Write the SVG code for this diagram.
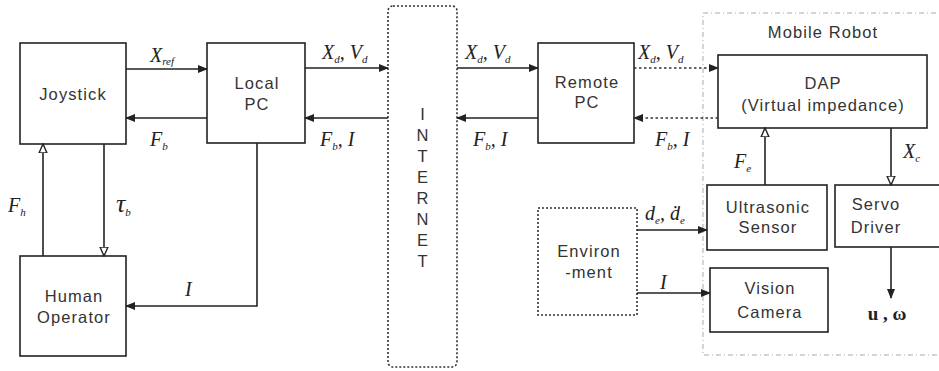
<svg xmlns="http://www.w3.org/2000/svg" width="939" height="371" viewBox="0 0 939 371">
<defs>
<style>
.box{fill:#fff;stroke:#222;stroke-width:1.6}
.dot{fill:none;stroke:#333;stroke-width:1.6;stroke-dasharray:2 2}
.cont{fill:none;stroke:#aaa;stroke-width:1;stroke-dasharray:5 3 1 3}
.t{font-family:"Liberation Sans",Arial,sans-serif;font-size:16.5px;letter-spacing:1.1px;fill:#333;text-anchor:middle}
.lab{font-family:"Liberation Serif","Times New Roman",serif;font-style:italic;font-size:20px;fill:#222}
.sub{font-size:11px}
.c{fill:none;stroke:#222;stroke-width:1.6}
.cd{fill:none;stroke:#333;stroke-width:1.6;stroke-dasharray:2.5 2.5}
</style>
<marker id="af" markerWidth="10" markerHeight="8" refX="9" refY="4" orient="auto" markerUnits="userSpaceOnUse"><path d="M0,0 L10,4 L0,8 Z" fill="#222"/></marker>
<marker id="ao" markerWidth="10" markerHeight="10" refX="9" refY="5" orient="auto" markerUnits="userSpaceOnUse"><path d="M0,1 L9,5 L0,9 Z" fill="#fff" stroke="#222" stroke-width="1.4"/></marker>
</defs>

<g id="mobile-robot">
<rect class="cont" x="703" y="13" width="240" height="342"/>
<text class="t" x="823" y="38">Mobile Robot</text>
</g>

<g id="joystick"><rect class="box" x="20" y="43" width="106" height="101"/><text class="t" x="73" y="100">Joystick</text></g>
<g id="local-pc"><rect class="box" x="207" y="43" width="98" height="100"/><text class="t" x="257" y="89">Local</text><text class="t" x="257" y="110">PC</text></g>
<g id="human-operator"><rect class="box" x="20" y="256" width="106" height="100"/><text class="t" x="74" y="302">Human</text><text class="t" x="74" y="323">Operator</text></g>
<g id="internet"><rect class="dot" x="388" y="6" width="69" height="361" rx="5"/>
<text class="t" x="423" y="120">I</text><text class="t" x="423" y="141">N</text><text class="t" x="423" y="162">T</text><text class="t" x="423" y="183">E</text><text class="t" x="423" y="204">R</text><text class="t" x="423" y="225">N</text><text class="t" x="423" y="246">E</text><text class="t" x="423" y="267">T</text></g>
<g id="remote-pc"><rect class="box" x="538" y="43" width="96" height="100"/><text class="t" x="587" y="88">Remote</text><text class="t" x="587" y="108">PC</text></g>
<g id="dap"><rect class="box" x="718" y="55" width="209" height="73"/><text class="t" x="823" y="89">DAP</text><text class="t" x="823" y="111">(Virtual impedance)</text></g>
<g id="ultrasonic-sensor"><rect class="box" x="707" y="185" width="120" height="65"/><text class="t" x="768" y="213">Ultrasonic</text><text class="t" x="768" y="233">Sensor</text></g>
<g id="servo-driver"><rect class="box" x="835" y="185" width="110" height="62"/><text class="t" x="876" y="210">Servo</text><text class="t" x="876" y="233">Driver</text></g>
<g id="environment"><rect class="dot" x="538" y="208" width="99" height="107"/><text class="t" x="589" y="257">Environ</text><text class="t" x="589" y="278">-ment</text></g>
<g id="vision-camera"><rect class="box" x="710" y="268" width="118" height="64"/><text class="t" x="770" y="294">Vision</text><text class="t" x="770" y="318">Camera</text></g>

<g id="connectors">
<line class="c" x1="126" y1="69" x2="207" y2="69" marker-end="url(#af)"/>
<line class="c" x1="207" y1="118" x2="126" y2="118" marker-end="url(#af)"/>
<line class="c" x1="305" y1="68" x2="388" y2="68" marker-end="url(#af)"/>
<line class="c" x1="388" y1="118" x2="305" y2="118" marker-end="url(#af)"/>
<line class="c" x1="43" y1="256" x2="43" y2="144" marker-end="url(#ao)"/>
<line class="c" x1="104" y1="144" x2="104" y2="256" marker-end="url(#ao)"/>
<polyline class="c" points="257,143 257,306 126,306" marker-end="url(#af)"/>
<line class="c" x1="457" y1="68" x2="538" y2="68" marker-end="url(#af)"/>
<line class="c" x1="538" y1="118" x2="457" y2="118" marker-end="url(#af)"/>
<line class="cd" x1="634" y1="68" x2="718" y2="68" marker-end="url(#af)"/>
<line class="cd" x1="718" y1="118" x2="634" y2="118" marker-end="url(#af)"/>
<line class="c" x1="765" y1="185" x2="765" y2="128" marker-end="url(#ao)"/>
<line class="c" x1="891" y1="128" x2="891" y2="185" marker-end="url(#ao)"/>
<line class="c" x1="637" y1="230" x2="707" y2="230" marker-end="url(#af)"/>
<line class="c" x1="637" y1="293" x2="710" y2="293" marker-end="url(#af)"/>
<line class="c" x1="891" y1="247" x2="891" y2="298" marker-end="url(#af)"/>
</g>

<g id="labels">
<text class="lab" x="150" y="62">X<tspan class="sub" dy="3">ref</tspan></text>
<text class="lab" x="150" y="146">F<tspan class="sub" dy="4">b</tspan></text>
<text class="lab" x="322" y="59">X<tspan class="sub" dy="4">d</tspan><tspan dy="-4">, V</tspan><tspan class="sub" dy="4">d</tspan></text>
<text class="lab" x="320" y="146">F<tspan class="sub" dy="4">b</tspan><tspan dy="-4">, I</tspan></text>
<text class="lab" x="465" y="59">X<tspan class="sub" dy="4">d</tspan><tspan dy="-4">, V</tspan><tspan class="sub" dy="4">d</tspan></text>
<text class="lab" x="473" y="146">F<tspan class="sub" dy="4">b</tspan><tspan dy="-4">, I</tspan></text>
<text class="lab" x="638" y="59">X<tspan class="sub" dy="4">d</tspan><tspan dy="-4">, V</tspan><tspan class="sub" dy="4">d</tspan></text>
<text class="lab" x="655" y="146">F<tspan class="sub" dy="4">b</tspan><tspan dy="-4">, I</tspan></text>
<text class="lab" x="734" y="168">F<tspan class="sub" dy="4">e</tspan></text>
<text class="lab" x="903" y="158">X<tspan class="sub" dy="4">c</tspan></text>
<text class="lab" x="8" y="212">F<tspan class="sub" dy="4">h</tspan></text>
<text class="lab" x="116" y="212" style="font-size:26px">τ<tspan class="sub" dy="4">b</tspan></text>
<text class="lab" x="185" y="296">I</text>
<text class="lab" x="645" y="220">d<tspan class="sub" dy="4">e</tspan><tspan dy="-4">, ḋ</tspan><tspan class="sub" dy="4">e</tspan></text>
<text class="lab" x="660" y="289">I</text>
<text x="887" y="320" font-family="'Liberation Serif','Times New Roman',serif" font-weight="bold" font-size="19" fill="#222" text-anchor="middle">u , ω</text>
</g>
</svg>
